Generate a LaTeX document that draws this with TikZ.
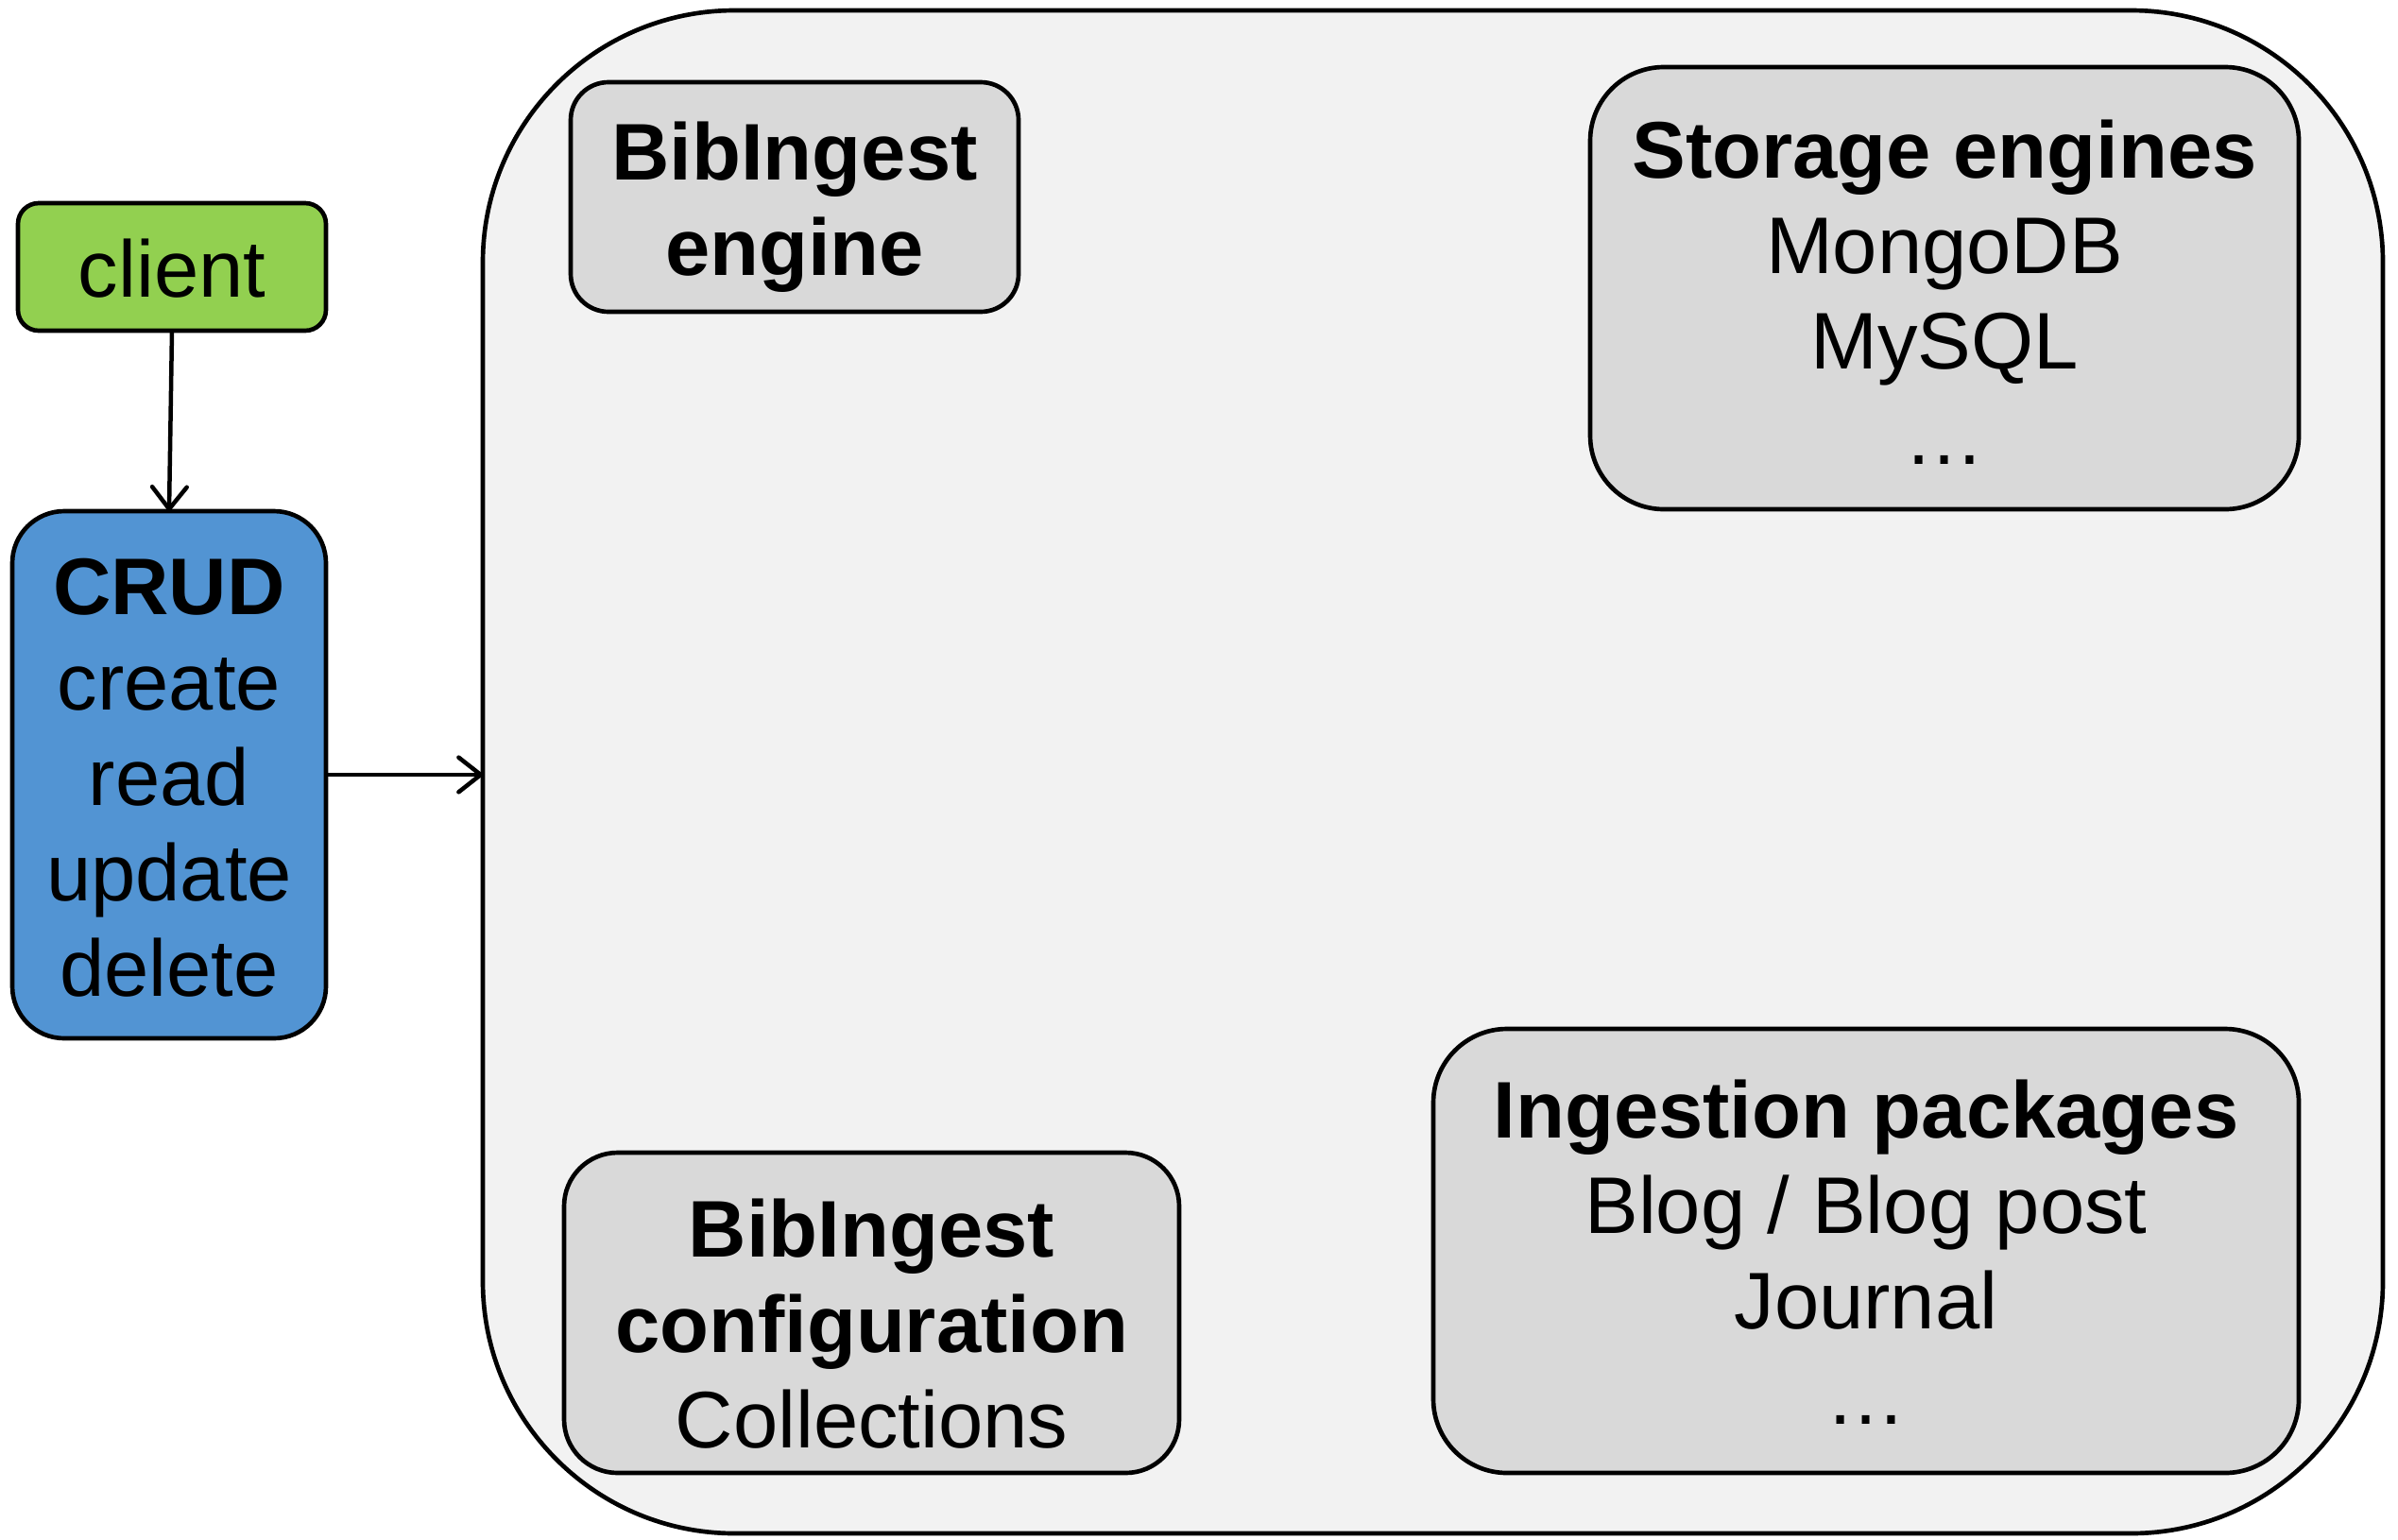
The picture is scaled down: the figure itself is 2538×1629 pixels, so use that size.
\documentclass[tikz,border=0pt]{standalone}
\usepackage{fontspec}
\setmainfont{Liberation Sans}
\usetikzlibrary{arrows.meta}
\definecolor{clientgreen}{RGB}{146,208,80}
\definecolor{crudblue}{RGB}{82,148,211}
\definecolor{boxgray}{RGB}{217,217,217}
\definecolor{contgray}{RGB}{242,242,242}
\begin{document}
\begin{tikzpicture}[x=0.3pt,y=-0.3pt,
  every node/.style={font=\fontsize{25.5}{30.3}\selectfont, align=center, inner sep=0pt, outer sep=0pt},
  every label/.style={draw=none, fill=none},
  boxbase/.style={draw=black, line width=1.4pt, rectangle},
  graybox/.style={boxbase, fill=boxgray},
  conn/.style={line width=1.35pt, -{Straight Barb[length=7pt,width=11pt,round]}}]
\useasboundingbox (0,0) rectangle (2538,1629);
\node[boxbase, fill=contgray, minimum width=603.3pt, minimum height=483.6pt, rounded corners=80pt] (cont) at (1516.5,817) {};
\node[boxbase, fill=clientgreen, minimum width=97.8pt, minimum height=40.5pt, rounded corners=6.6pt,
  label={[yshift=-0.6pt]center:client}] (client) at (182,282.5) {};
\node[boxbase, fill=crudblue, minimum width=99.6pt, minimum height=167.4pt, rounded corners=16.5pt,
  label={[yshift=-1pt]center:{\textbf{CRUD}\\create\\read\\update\\delete}}] (crud) at (179,820) {};
\node[graybox, minimum width=142.2pt, minimum height=72.9pt, rounded corners=12pt,
  label={[yshift=-3.2pt]center:{\textbf{BibIngest}\\\textbf{engine}}}] (engine) at (841,208.5) {};
\node[graybox, minimum width=225pt, minimum height=140.4pt, rounded corners=23.4pt,
  label={[yshift=-1.2pt]center:{\textbf{Storage engines}\\MongoDB\\MySQL\\…}}] (storage) at (2058,305) {};
\node[graybox, minimum width=195.3pt, minimum height=101.7pt, rounded corners=17pt,
  label={[yshift=-3.4pt]center:{\textbf{BibIngest}\\\textbf{configuration}\\Collections}}] (config) at (922.5,1389.5) {};
\node[graybox, minimum width=274.8pt, minimum height=141pt, rounded corners=23.4pt,
  label={[yshift=-0.3pt]center:{\textbf{Ingestion packages}\\Blog / Blog post\\Journal\\…}}] (ingest) at (1975,1324) {};
\draw[conn] (client.south) -- (crud.north);
\draw[conn] (crud.east) -- (crud.east -| cont.west);
\end{tikzpicture}
\end{document}
